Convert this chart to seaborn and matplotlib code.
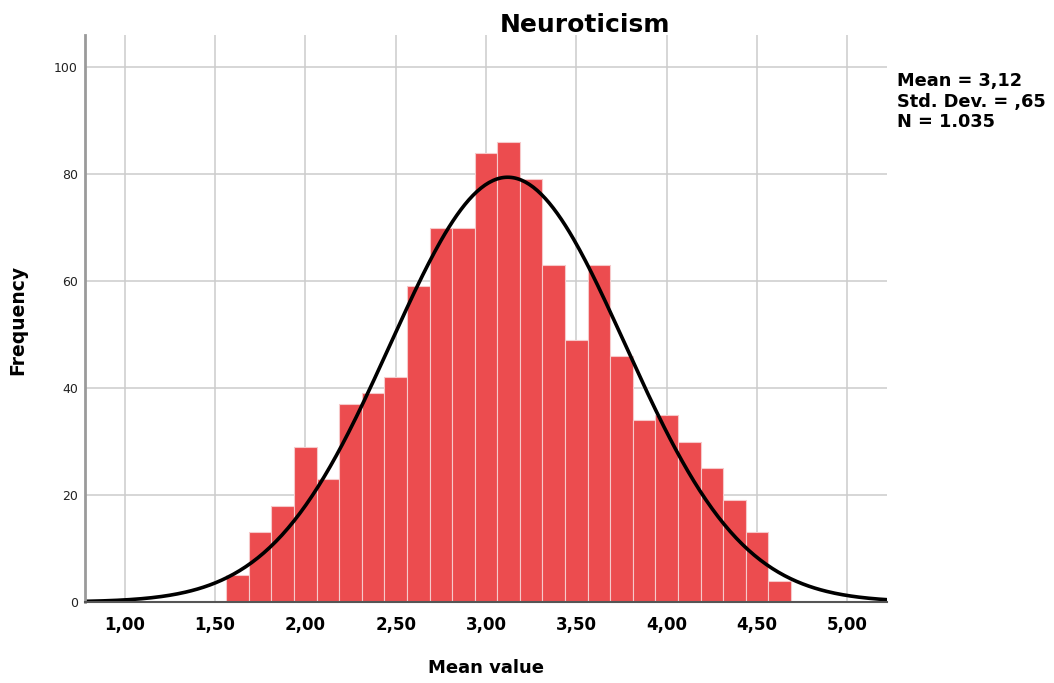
import numpy as np
import pandas as pd
import matplotlib
matplotlib.use("Agg")
import matplotlib.pyplot as plt
from matplotlib.ticker import FuncFormatter
import seaborn as sns

# Histogram data: bin start, bin width, counts
bin_start = 1.5625
bin_width = 0.125
counts = [5, 13, 18, 29, 23, 37, 39, 42, 59, 70, 70, 84, 86,
          79, 63, 49, 63, 46, 34, 35, 30, 25, 19, 13, 4]

# Summary statistics shown in the chart
mean_val = 3.12
std_val = 0.65
n_total = 1035

x_ticks = [1.0, 1.5, 2.0, 2.5, 3.0, 3.5, 4.0, 4.5, 5.0]
y_ticks = [0, 20, 40, 60, 80, 100]

edges = bin_start + bin_width * np.arange(len(counts) + 1)
df = pd.DataFrame({"value": (edges[:-1] + edges[1:]) / 2, "count": counts})

sns.set_theme(style="white")
plt.rcParams["font.family"] = ["DejaVu Sans"]
plt.rcParams["text.color"] = "black"
plt.rcParams["axes.labelcolor"] = "black"
plt.rcParams["xtick.color"] = "black"
plt.rcParams["ytick.color"] = "black"

fig = plt.figure(figsize=(10.54, 6.83), dpi=100)
ax = fig.add_axes([0.0806, 0.1186, 0.761, 0.8302])

ax.set_axisbelow(True)
ax.grid(True, color="#cccccc", linewidth=1.1)

sns.histplot(data=df, x="value", weights="count", bins=list(edges), ax=ax,
             color="#EC4C4F", alpha=1, edgecolor="#f6c9ca", linewidth=0.8)

# Normal curve scaled to counts
xs = np.linspace(0.78, 5.22, 400)
pdf = np.exp(-0.5 * ((xs - mean_val) / std_val) ** 2) / (std_val * np.sqrt(2 * np.pi))
sns.lineplot(x=xs, y=pdf * n_total * bin_width, ax=ax, color="black", linewidth=2.6)

ax.set_xlim(0.78, 5.22)
ax.set_ylim(0, 106)
ax.set_xticks(x_ticks)
ax.set_yticks(y_ticks)
ax.xaxis.set_major_formatter(FuncFormatter(lambda v, p: f"{v:.2f}".replace(".", ",")))
ax.tick_params(axis="x", length=0, pad=10, labelsize=12)
ax.tick_params(axis="y", length=0, pad=5, labelsize=9, labelcolor="#222222")
for lbl in ax.get_xticklabels():
    lbl.set_fontweight("bold")

for s in ["top", "right"]:
    ax.spines[s].set_visible(False)
ax.spines["left"].set_color("#9a9a9a")
ax.spines["left"].set_linewidth(2)
ax.spines["bottom"].set_color("#555555")
ax.spines["bottom"].set_linewidth(1.5)

ax.set_xlabel("Mean value", fontsize=13, fontweight="bold")
ax.set_ylabel("Frequency", fontsize=13.5, fontweight="bold")
ax.xaxis.set_label_coords(0.5, -0.100)
ax.yaxis.set_label_coords(-0.0723, 0.497)

fig.text(0.555, 0.964, "Neuroticism", fontsize=18, fontweight="bold",
         ha="center", va="center")

stats_txt = "Mean = 3,12\nStd. Dev. = ,65\nN = 1.035"
fig.text(0.851, 0.895, stats_txt, fontsize=12.8, fontweight="bold",
         ha="left", va="top", linespacing=1.2)

fig.savefig("out.png", dpi=100)
